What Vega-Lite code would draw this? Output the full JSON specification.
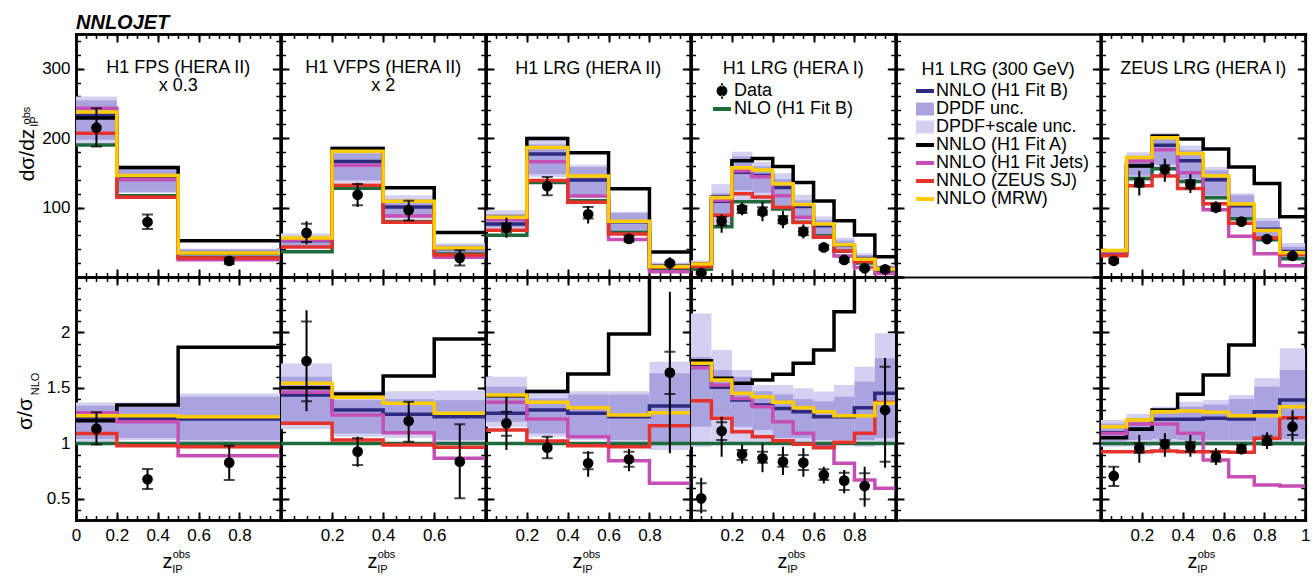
{
"$schema": "https://vega.github.io/schema/vega-lite/v6.json",
"padding": {"left": 14, "top": 13, "right": 4, "bottom": 0},
"title": {"text": "NNLOJET", "anchor": "start", "frame": "group", "fontSize": 20, "fontStyle": "italic", "fontWeight": "bold", "offset": -16, "baseline": "alphabetic"},
"datasets": {"v": [
{"p":1,"r":"t","x":0,"x2":0.2,"N":190,"B":233,"A":229,"J":243,"Z":207,"M":237.5,"ml":197.6,"mh":254.6,"ll":190,"lh":260},
{"p":1,"r":"t","x":0.2,"x2":0.5,"N":117,"B":143.6,"A":157.6,"J":140,"Z":114.7,"M":146.3,"ml":122.9,"mh":155.6,"ll":120.5,"lh":160.3},
{"p":1,"r":"t","x":0.5,"x2":1,"N":28,"B":34.2,"A":52.2,"J":24.9,"Z":27.2,"M":34.7,"ml":28.8,"mh":39.8,"ll":28,"lh":40.6},
{"p":1,"r":"b","x":0,"x2":0.2,"N":1,"B":1.227,"A":1.205,"J":1.277,"Z":1.09,"M":1.25,"ml":1.04,"mh":1.34,"ll":1.0,"lh":1.37},
{"p":1,"r":"b","x":0.2,"x2":0.5,"N":1,"B":1.227,"A":1.347,"J":1.196,"Z":0.98,"M":1.25,"ml":1.05,"mh":1.33,"ll":1.03,"lh":1.37},
{"p":1,"r":"b","x":0.5,"x2":1,"N":1,"B":1.22,"A":1.866,"J":0.89,"Z":0.97,"M":1.241,"ml":1.03,"mh":1.42,"ll":1.0,"lh":1.45},
{"p":2,"r":"t","x":0,"x2":0.2,"N":36.5,"B":52.5,"A":54.9,"J":53.3,"Z":43.1,"M":56.3,"ml":43.1,"mh":58.4,"ll":41.2,"lh":62.8},
{"p":2,"r":"t","x":0.2,"x2":0.4,"N":128,"B":166.5,"A":185,"J":160.8,"Z":132,"M":181.2,"ml":139.5,"mh":178,"ll":135.7,"lh":189},
{"p":2,"r":"t","x":0.4,"x2":0.6,"N":80,"B":101,"A":128.6,"J":87.8,"Z":78.9,"M":109,"ml":88,"mh":112,"ll":84,"lh":117.6},
{"p":2,"r":"t","x":0.6,"x2":0.8,"N":33,"B":41,"A":64,"J":28.6,"Z":31.8,"M":41.9,"ml":34,"mh":45.9,"ll":32.7,"lh":48.7},
{"p":2,"r":"b","x":0,"x2":0.2,"N":1,"B":1.437,"A":1.503,"J":1.461,"Z":1.181,"M":1.542,"ml":1.18,"mh":1.6,"ll":1.13,"lh":1.72},
{"p":2,"r":"b","x":0.2,"x2":0.4,"N":1,"B":1.301,"A":1.446,"J":1.256,"Z":1.031,"M":1.416,"ml":1.09,"mh":1.39,"ll":1.06,"lh":1.476},
{"p":2,"r":"b","x":0.4,"x2":0.6,"N":1,"B":1.263,"A":1.608,"J":1.097,"Z":0.986,"M":1.362,"ml":1.1,"mh":1.4,"ll":1.05,"lh":1.47},
{"p":2,"r":"b","x":0.6,"x2":0.8,"N":1,"B":1.241,"A":1.941,"J":0.866,"Z":0.965,"M":1.271,"ml":1.03,"mh":1.39,"ll":0.99,"lh":1.476},
{"p":3,"r":"t","x":0,"x2":0.2,"N":60,"B":76.3,"A":85.8,"J":82.3,"Z":67.3,"M":86.2,"ml":71.8,"mh":90.7,"ll":69.1,"lh":96.1},
{"p":3,"r":"t","x":0.2,"x2":0.4,"N":136,"B":177,"A":199.5,"J":166,"Z":139,"M":186.5,"ml":148,"mh":191,"ll":144,"lh":202.6},
{"p":3,"r":"t","x":0.4,"x2":0.6,"N":110,"B":139.8,"A":178.9,"J":116.7,"Z":107.8,"M":145.4,"ml":116.6,"mh":158.4,"ll":113.3,"lh":161.7},
{"p":3,"r":"t","x":0.6,"x2":0.8,"N":64,"B":79.4,"A":127.1,"J":54.1,"Z":62.1,"M":80.4,"ml":65.9,"mh":92.2,"ll":63.4,"lh":94},
{"p":3,"r":"t","x":0.8,"x2":1,"N":12,"B":16,"A":36,"J":7.7,"Z":13.9,"M":15.3,"ml":12,"mh":19.6,"ll":11.3,"lh":20.8},
{"p":3,"r":"b","x":0,"x2":0.2,"N":1,"B":1.271,"A":1.43,"J":1.371,"Z":1.121,"M":1.437,"ml":1.196,"mh":1.511,"ll":1.151,"lh":1.602},
{"p":3,"r":"b","x":0.2,"x2":0.4,"N":1,"B":1.301,"A":1.467,"J":1.22,"Z":1.022,"M":1.371,"ml":1.09,"mh":1.406,"ll":1.06,"lh":1.49},
{"p":3,"r":"b","x":0.4,"x2":0.6,"N":1,"B":1.271,"A":1.626,"J":1.061,"Z":0.98,"M":1.322,"ml":1.06,"mh":1.44,"ll":1.03,"lh":1.47},
{"p":3,"r":"b","x":0.6,"x2":0.8,"N":1,"B":1.24,"A":1.986,"J":0.845,"Z":0.97,"M":1.256,"ml":1.03,"mh":1.44,"ll":0.99,"lh":1.47},
{"p":3,"r":"b","x":0.8,"x2":1,"N":1,"B":1.337,"A":3.0,"J":0.641,"Z":1.16,"M":1.277,"ml":1.0,"mh":1.632,"ll":0.94,"lh":1.737},
{"p":4,"r":"t","x":0,"x2":0.1,"N":11,"B":18.7,"A":19.2,"J":18.5,"Z":15.2,"M":18.9,"ml":12.7,"mh":19.6,"ll":10.7,"lh":23.9},
{"p":4,"r":"t","x":0.1,"x2":0.2,"N":72.5,"B":109.2,"A":115,"J":110.7,"Z":89,"M":114,"ml":90.6,"mh":120.5,"ll":72.5,"lh":133.5},
{"p":4,"r":"t","x":0.2,"x2":0.3,"N":108.5,"B":150.9,"A":167.3,"J":152.6,"Z":120,"M":157.5,"ml":124.8,"mh":173.6,"ll":108.5,"lh":180.3},
{"p":4,"r":"t","x":0.3,"x2":0.4,"N":108.5,"B":146.1,"A":170.6,"J":144.4,"Z":115.1,"M":154.2,"ml":121.5,"mh":159.5,"ll":108.5,"lh":165.7},
{"p":4,"r":"t","x":0.4,"x2":0.5,"N":98,"B":129,"A":159,"J":117.2,"Z":100.5,"M":134.4,"ml":102.9,"mh":141.1,"ll":98,"lh":149.6},
{"p":4,"r":"t","x":0.5,"x2":0.6,"N":79,"B":101.6,"A":136,"J":86.2,"Z":78.4,"M":104.4,"ml":83,"mh":110.6,"ll":77.4,"lh":118.3},
{"p":4,"r":"t","x":0.6,"x2":0.7,"N":59.5,"B":73.8,"A":109.6,"J":57.7,"Z":57.2,"M":76.5,"ml":61.3,"mh":82.1,"ll":58.3,"lh":87.3},
{"p":4,"r":"t","x":0.7,"x2":0.8,"N":37,"B":45.9,"A":80.9,"J":30.4,"Z":37.4,"M":46.3,"ml":38.1,"mh":52.5,"ll":37,"lh":56.5},
{"p":4,"r":"t","x":0.8,"x2":0.9,"N":20.3,"B":26.8,"A":60.5,"J":13.6,"Z":22.1,"M":25.4,"ml":20.9,"mh":31.6,"ll":19.7,"lh":34.3},
{"p":4,"r":"t","x":0.9,"x2":1,"N":8.5,"B":12.3,"A":29,"J":5.1,"Z":11.6,"M":11.6,"ml":8.9,"mh":15,"ll":8.5,"lh":16.9},
{"p":4,"r":"b","x":0,"x2":0.1,"N":1,"B":1.70,"A":1.746,"J":1.683,"Z":1.385,"M":1.722,"ml":1.15,"mh":1.78,"ll":0.97,"lh":2.17},
{"p":4,"r":"b","x":0.1,"x2":0.2,"N":1,"B":1.506,"A":1.587,"J":1.527,"Z":1.227,"M":1.572,"ml":1.25,"mh":1.662,"ll":1.0,"lh":1.842},
{"p":4,"r":"b","x":0.2,"x2":0.3,"N":1,"B":1.391,"A":1.542,"J":1.406,"Z":1.106,"M":1.452,"ml":1.15,"mh":1.6,"ll":1.0,"lh":1.662},
{"p":4,"r":"b","x":0.3,"x2":0.4,"N":1,"B":1.347,"A":1.572,"J":1.331,"Z":1.061,"M":1.421,"ml":1.12,"mh":1.47,"ll":1.0,"lh":1.527},
{"p":4,"r":"b","x":0.4,"x2":0.5,"N":1,"B":1.316,"A":1.623,"J":1.196,"Z":1.025,"M":1.371,"ml":1.05,"mh":1.44,"ll":1.0,"lh":1.527},
{"p":4,"r":"b","x":0.5,"x2":0.6,"N":1,"B":1.286,"A":1.722,"J":1.091,"Z":0.992,"M":1.322,"ml":1.05,"mh":1.4,"ll":0.98,"lh":1.497},
{"p":4,"r":"b","x":0.6,"x2":0.7,"N":1,"B":1.241,"A":1.842,"J":0.97,"Z":0.962,"M":1.286,"ml":1.03,"mh":1.38,"ll":0.98,"lh":1.467},
{"p":4,"r":"b","x":0.7,"x2":0.8,"N":1,"B":1.24,"A":2.187,"J":0.821,"Z":1.01,"M":1.25,"ml":1.03,"mh":1.42,"ll":1.0,"lh":1.527},
{"p":4,"r":"b","x":0.8,"x2":0.9,"N":1,"B":1.322,"A":2.98,"J":0.67,"Z":1.091,"M":1.25,"ml":1.03,"mh":1.557,"ll":0.97,"lh":1.692},
{"p":4,"r":"b","x":0.9,"x2":1,"N":1,"B":1.452,"A":3.4,"J":0.596,"Z":1.37,"M":1.362,"ml":1.05,"mh":1.767,"ll":1.0,"lh":1.992},
{"p":6,"r":"t","x":0,"x2":0.125,"N":33,"B":36.2,"A":34.7,"J":36,"Z":30.6,"M":38,"ml":33.7,"mh":38.9,"ll":32,"lh":40},
{"p":6,"r":"t","x":0.125,"x2":0.25,"N":142,"B":160.5,"A":160,"J":166.9,"Z":131.5,"M":172,"ml":146.3,"mh":174.7,"ll":137.7,"lh":179.6},
{"p":6,"r":"t","x":0.25,"x2":0.375,"N":156,"B":189.9,"A":203,"J":183.3,"Z":145.4,"M":200.6,"ml":162.2,"mh":202.8,"ll":152.9,"lh":207.6},
{"p":6,"r":"t","x":0.375,"x2":0.5,"N":137.6,"B":167.5,"A":198.6,"J":150.1,"Z":127.4,"M":177.8,"ml":141.7,"mh":183,"ll":134.8,"lh":189.3},
{"p":6,"r":"t","x":0.5,"x2":0.625,"N":114,"B":139.9,"A":184.3,"J":97,"Z":105.6,"M":145.9,"ml":117.4,"mh":153.9,"ll":111.7,"lh":158.6},
{"p":6,"r":"t","x":0.625,"x2":0.75,"N":84,"B":102.5,"A":158.5,"J":58.8,"Z":77.3,"M":105,"ml":86.5,"mh":117.6,"ll":82.3,"lh":120.7},
{"p":6,"r":"t","x":0.75,"x2":0.875,"N":53.5,"B":68.8,"A":134.8,"J":33.5,"Z":56,"M":66.9,"ml":55.1,"mh":80.8,"ll":52.4,"lh":84.9},
{"p":6,"r":"t","x":0.875,"x2":1,"N":26.3,"B":36.6,"A":86.8,"J":16.2,"Z":32.4,"M":35,"ml":27.4,"mh":43.7,"ll":25.8,"lh":48.8},
{"p":6,"r":"b","x":0,"x2":0.125,"N":1,"B":1.097,"A":1.052,"J":1.09,"Z":0.926,"M":1.151,"ml":1.02,"mh":1.18,"ll":0.97,"lh":1.211},
{"p":6,"r":"b","x":0.125,"x2":0.25,"N":1,"B":1.13,"A":1.127,"J":1.175,"Z":0.926,"M":1.211,"ml":1.03,"mh":1.23,"ll":0.97,"lh":1.265},
{"p":6,"r":"b","x":0.25,"x2":0.375,"N":1,"B":1.217,"A":1.301,"J":1.175,"Z":0.932,"M":1.286,"ml":1.04,"mh":1.3,"ll":0.98,"lh":1.331},
{"p":6,"r":"b","x":0.375,"x2":0.5,"N":1,"B":1.217,"A":1.443,"J":1.091,"Z":0.926,"M":1.292,"ml":1.03,"mh":1.33,"ll":0.98,"lh":1.376},
{"p":6,"r":"b","x":0.5,"x2":0.625,"N":1,"B":1.227,"A":1.617,"J":0.851,"Z":0.926,"M":1.28,"ml":1.03,"mh":1.35,"ll":0.98,"lh":1.391},
{"p":6,"r":"b","x":0.625,"x2":0.75,"N":1,"B":1.22,"A":1.887,"J":0.70,"Z":0.92,"M":1.25,"ml":1.03,"mh":1.4,"ll":0.98,"lh":1.437},
{"p":6,"r":"b","x":0.75,"x2":0.875,"N":1,"B":1.286,"A":2.52,"J":0.626,"Z":1.046,"M":1.25,"ml":1.03,"mh":1.511,"ll":0.98,"lh":1.587},
{"p":6,"r":"b","x":0.875,"x2":1,"N":1,"B":1.391,"A":3.3,"J":0.616,"Z":1.232,"M":1.331,"ml":1.04,"mh":1.662,"ll":0.98,"lh":1.857},
{"p":1,"r":"t","xd":0.1,"yd":215,"il":188,"ih":243,"ol":188,"oh":243},
{"p":1,"r":"t","xd":0.35,"yd":79.2,"il":69,"ih":90,"ol":69,"oh":90},
{"p":1,"r":"t","xd":0.75,"yd":23.2,"il":18.8,"ih":27.4,"ol":18.8,"oh":27.4},
{"p":1,"r":"b","xd":0.1,"yd":1.133,"il":0.99,"ih":1.28,"ol":0.99,"oh":1.28},
{"p":1,"r":"b","xd":0.35,"yd":0.677,"il":0.59,"ih":0.77,"ol":0.59,"oh":0.77},
{"p":1,"r":"b","xd":0.75,"yd":0.827,"il":0.67,"ih":0.98,"ol":0.67,"oh":0.98},
{"p":2,"r":"t","xd":0.1,"yd":63.6,"il":50.4,"ih":76.7,"ol":47.1,"oh":80.3},
{"p":2,"r":"t","xd":0.3,"yd":118.5,"il":103.2,"ih":133.9,"ol":101,"oh":135.7},
{"p":2,"r":"t","xd":0.5,"yd":96.2,"il":81.3,"ih":110,"ol":81.3,"oh":110},
{"p":2,"r":"t","xd":0.7,"yd":27.6,"il":16.7,"ih":38.7,"ol":16.7,"oh":38.7},
{"p":2,"r":"b","xd":0.1,"yd":1.743,"il":1.38,"ih":2.1,"ol":1.29,"oh":2.2},
{"p":2,"r":"b","xd":0.3,"yd":0.926,"il":0.806,"ih":1.046,"ol":0.79,"oh":1.06},
{"p":2,"r":"b","xd":0.5,"yd":1.202,"il":1.016,"ih":1.376,"ol":1.016,"oh":1.376},
{"p":2,"r":"b","xd":0.7,"yd":0.836,"il":0.506,"ih":1.172,"ol":0.506,"oh":1.172},
{"p":3,"r":"t","xd":0.1,"yd":70.9,"il":64.2,"ih":77.2,"ol":56.4,"oh":85.2},
{"p":3,"r":"t","xd":0.3,"yd":130.8,"il":117.8,"ih":144.2,"ol":117.8,"oh":144.2},
{"p":3,"r":"t","xd":0.5,"yd":90.3,"il":84.4,"ih":100.9,"ol":77,"oh":102.3},
{"p":3,"r":"t","xd":0.7,"yd":54.8,"il":50.6,"ih":59.3,"ol":48,"oh":60.8},
{"p":3,"r":"t","xd":0.9,"yd":19.7,"il":17.4,"ih":21.9,"ol":10.9,"oh":28.4},
{"p":3,"r":"b","xd":0.1,"yd":1.181,"il":1.07,"ih":1.286,"ol":0.94,"oh":1.42},
{"p":3,"r":"b","xd":0.3,"yd":0.962,"il":0.866,"ih":1.06,"ol":0.866,"oh":1.06},
{"p":3,"r":"b","xd":0.5,"yd":0.821,"il":0.767,"ih":0.917,"ol":0.70,"oh":0.93},
{"p":3,"r":"b","xd":0.7,"yd":0.857,"il":0.79,"ih":0.926,"ol":0.75,"oh":0.95},
{"p":3,"r":"b","xd":0.9,"yd":1.638,"il":1.446,"ih":1.827,"ol":0.911,"oh":2.368},
{"p":4,"r":"t","xd":0.05,"yd":5.6,"il":4.3,"ih":7.1,"ol":4.1,"oh":7.6},
{"p":4,"r":"t","xd":0.15,"yd":80.6,"il":74.7,"ih":86.3,"ol":63.8,"oh":90},
{"p":4,"r":"t","xd":0.25,"yd":97.9,"il":92.3,"ih":102.1,"ol":89,"oh":107.4},
{"p":4,"r":"t","xd":0.35,"yd":94,"il":89.7,"ih":100.5,"ol":80.3,"oh":108.5},
{"p":4,"r":"t","xd":0.45,"yd":81.9,"il":77.4,"ih":87.8,"ol":70.2,"oh":95.2},
{"p":4,"r":"t","xd":0.55,"yd":65.3,"il":60.1,"ih":70.8,"ol":55.3,"oh":75.5},
{"p":4,"r":"t","xd":0.65,"yd":42.6,"il":39.9,"ih":45.6,"ol":38.1,"oh":47},
{"p":4,"r":"t","xd":0.75,"yd":24.6,"il":21.5,"ih":27.2,"ol":20.4,"oh":28.1},
{"p":4,"r":"t","xd":0.85,"yd":12.5,"il":10.1,"ih":14.8,"ol":8.7,"oh":16},
{"p":4,"r":"t","xd":0.95,"yd":11.1,"il":7.1,"ih":14.4,"ol":6.6,"oh":15},
{"p":4,"r":"b","xd":0.05,"yd":0.505,"il":0.394,"ih":0.641,"ol":0.37,"oh":0.69},
{"p":4,"r":"b","xd":0.15,"yd":1.112,"il":1.031,"ih":1.19,"ol":0.88,"oh":1.241},
{"p":4,"r":"b","xd":0.25,"yd":0.902,"il":0.851,"ih":0.941,"ol":0.82,"oh":0.99},
{"p":4,"r":"b","xd":0.35,"yd":0.866,"il":0.827,"ih":0.926,"ol":0.74,"oh":1.0},
{"p":4,"r":"b","xd":0.45,"yd":0.836,"il":0.79,"ih":0.896,"ol":0.716,"oh":0.971},
{"p":4,"r":"b","xd":0.55,"yd":0.827,"il":0.761,"ih":0.896,"ol":0.70,"oh":0.956},
{"p":4,"r":"b","xd":0.65,"yd":0.716,"il":0.67,"ih":0.767,"ol":0.64,"oh":0.79},
{"p":4,"r":"b","xd":0.75,"yd":0.665,"il":0.58,"ih":0.736,"ol":0.55,"oh":0.76},
{"p":4,"r":"b","xd":0.85,"yd":0.616,"il":0.497,"ih":0.731,"ol":0.43,"oh":0.79},
{"p":4,"r":"b","xd":0.95,"yd":1.301,"il":0.836,"ih":1.692,"ol":0.78,"oh":1.77},
{"p":6,"r":"t","xd":0.0625,"yd":23.3,"il":20.3,"ih":26.1,"ol":20.3,"oh":26.1},
{"p":6,"r":"t","xd":0.1875,"yd":135.8,"il":130.2,"ih":142,"ol":117.4,"oh":152.8},
{"p":6,"r":"t","xd":0.3125,"yd":155.2,"il":149.1,"ih":160.8,"ol":137.3,"oh":170.2},
{"p":6,"r":"t","xd":0.4375,"yd":133.5,"il":127.4,"ih":139.8,"ol":121.1,"oh":148.1},
{"p":6,"r":"t","xd":0.5625,"yd":100.3,"il":95.3,"ih":105.6,"ol":91.9,"oh":109},
{"p":6,"r":"t","xd":0.6875,"yd":79.8,"il":77.3,"ih":82.8,"ol":75.6,"oh":84},
{"p":6,"r":"t","xd":0.8125,"yd":54.7,"il":52.8,"ih":57.2,"ol":50.8,"oh":58.9},
{"p":6,"r":"t","xd":0.9375,"yd":30.3,"il":28.3,"ih":32.3,"ol":26.8,"oh":34.2},
{"p":6,"r":"b","xd":0.0625,"yd":0.707,"il":0.616,"ih":0.79,"ol":0.616,"oh":0.79},
{"p":6,"r":"b","xd":0.1875,"yd":0.956,"il":0.917,"ih":1.0,"ol":0.827,"oh":1.076},
{"p":6,"r":"b","xd":0.3125,"yd":0.995,"il":0.956,"ih":1.031,"ol":0.88,"oh":1.091},
{"p":6,"r":"b","xd":0.4375,"yd":0.97,"il":0.926,"ih":1.016,"ol":0.88,"oh":1.076},
{"p":6,"r":"b","xd":0.5625,"yd":0.88,"il":0.836,"ih":0.926,"ol":0.806,"oh":0.956},
{"p":6,"r":"b","xd":0.6875,"yd":0.95,"il":0.92,"ih":0.986,"ol":0.9,"oh":1.0},
{"p":6,"r":"b","xd":0.8125,"yd":1.022,"il":0.986,"ih":1.07,"ol":0.95,"oh":1.1},
{"p":6,"r":"b","xd":0.9375,"yd":1.151,"il":1.076,"ih":1.227,"ol":1.02,"oh":1.3}
]},
"columns": 6,
"spacing": 0,
"bounds": "flush",
"resolve": {"scale": {"x": "independent", "y": "independent", "color": "independent", "stroke": "independent", "fill": "independent", "shape": "independent"}, "axis": {"x": "independent", "y": "independent"}},
"concat": [
{"width":204.3,"height":243,"title":{"text":["H1 FPS (HERA II)","x 0.3"],"offset":-62},"data":{"name":"v"},"transform":[{"filter":"datum.p==1&&datum.r=='t'"}],"resolve":{"axis":{"x":"independent","y":"independent"}},
"layer":[
{"mark":{"type":"rect","color":"#d3d0f2","clip":true},"encoding":{"x":{"field":"x","type":"quantitative","scale":{"domain":[0,1],"nice":false,"zero":false},"axis":{"orient":"bottom","tickCount":5,"labels":false,"title":null}},"x2":{"field":"x2"},"y":{"field":"ll","type":"quantitative","scale":{"domain":[0,350],"nice":false,"zero":false},"axis":{"orient":"left","values":[100,200,300],"format":"d","title":"dσ/dz","titleX":-43,"titleY":120.5,"titleAngle":-90,"titleAlign":"center","titleBaseline":"alphabetic","titleFontSize":21}},"y2":{"field":"lh"}}},
{"mark":{"type":"rect","color":"#a9a4df","clip":true},"encoding":{"x":{"field":"x","type":"quantitative","scale":{"domain":[0,1],"nice":false,"zero":false},"axis":{"orient":"bottom","tickCount":20,"tickSize":-4.5,"tickWidth":1.5,"labels":false,"title":null}},"x2":{"field":"x2"},"y":{"field":"ml","type":"quantitative","scale":{"domain":[0,350],"nice":false,"zero":false},"axis":{"orient":"left","tickCount":17,"tickSize":-4.5,"tickWidth":1.5,"labels":false,"title":null}},"y2":{"field":"mh"}}},
{"transform":[{"fold":["x","x2"],"as":["e","xe"]}],"mark":{"type":"line","strokeWidth":3.5,"clip":true},"encoding":{"x":{"field":"xe","type":"quantitative","scale":{"domain":[0,1],"nice":false,"zero":false},"axis":{"orient":"top","tickCount":5,"labels":false,"title":null}},"y":{"field":"N","type":"quantitative","scale":{"domain":[0,350],"nice":false,"zero":false},"axis":{"orient":"right","tickCount":3,"labels":false,"title":null}},"stroke":{"datum":"N","scale":{"domain":["D","N"],"range":["#000000","#1d6b3b"]},"legend":null},"order":[{"field":"x","type":"quantitative"},{"field":"e","type":"nominal"}]}},
{"transform":[{"fold":["B","A","J","Z","M"],"as":["s","v"]},{"fold":["x","x2"],"as":["e","xe"]}],"mark":{"type":"line","strokeWidth":3.5,"clip":true},"encoding":{"x":{"field":"xe","type":"quantitative","scale":{"domain":[0,1],"nice":false,"zero":false},"axis":{"orient":"top","tickCount":20,"tickSize":-4.5,"tickWidth":1.5,"labels":false,"title":null}},"y":{"field":"v","type":"quantitative","scale":{"domain":[0,350],"nice":false,"zero":false},"axis":{"orient":"right","tickCount":17,"tickSize":-4.5,"tickWidth":1.5,"labels":false,"title":null}},"color":{"field":"s","type":"nominal","scale":{"domain":["B","U","S","A","J","Z","M"],"range":["#2d2a7f","#a9a4df","#d3d0f2","#000000","#c54fb4","#e5322b","#ffcc00"]},"legend":null},"order":[{"field":"x","type":"quantitative"},{"field":"e","type":"nominal"}]}},
{"mark":{"type":"rule","strokeWidth":2,"color":"#000000","clip":true},"encoding":{"x":{"field":"xd","type":"quantitative","scale":{"domain":[0,1],"nice":false,"zero":false},"axis":null},"y":{"field":"ol","type":"quantitative","scale":{"domain":[0,350],"nice":false,"zero":false},"axis":{"orient":"left","ticks":false,"labels":false,"domain":false,"title":"obs","titleX":-47,"titleY":81,"titleAngle":-90,"titleAlign":"center","titleBaseline":"alphabetic","titleFontSize":11}},"y2":{"field":"oh"}}},
{"transform":[{"fold":["il","ih"],"as":["ck","cv"]}],"mark":{"type":"tick","orient":"horizontal","size":11,"thickness":2,"color":"#000000","clip":true},"encoding":{"x":{"field":"xd","type":"quantitative","scale":{"domain":[0,1],"nice":false,"zero":false},"axis":null},"y":{"field":"cv","type":"quantitative","scale":{"domain":[0,350],"nice":false,"zero":false},"axis":{"orient":"left","ticks":false,"labels":false,"domain":false,"title":"IP","titleX":-39,"titleY":87,"titleAngle":-90,"titleAlign":"center","titleBaseline":"alphabetic","titleFontSize":11}}}},
{"mark":{"type":"point","filled":true,"color":"#000000","size":115,"opacity":1,"clip":true},"encoding":{"x":{"field":"xd","type":"quantitative","scale":{"domain":[0,1],"nice":false,"zero":false},"axis":null},"y":{"field":"yd","type":"quantitative","scale":{"domain":[0,350],"nice":false,"zero":false},"axis":null}}}
]},
{"width":204.3,"height":243,"title":{"text":["H1 VFPS (HERA II)","x 2"],"offset":-62},"data":{"name":"v"},"transform":[{"filter":"datum.p==2&&datum.r=='t'"}],"resolve":{"axis":{"x":"independent","y":"independent"}},
"layer":[
{"mark":{"type":"rect","color":"#d3d0f2","clip":true},"encoding":{"x":{"field":"x","type":"quantitative","scale":{"domain":[0,0.8],"nice":false,"zero":false},"axis":{"orient":"bottom","tickCount":5,"labels":false,"title":null}},"x2":{"field":"x2"},"y":{"field":"ll","type":"quantitative","scale":{"domain":[0,350],"nice":false,"zero":false},"axis":{"orient":"left","tickCount":3,"labels":false,"title":null}},"y2":{"field":"lh"}}},
{"mark":{"type":"rect","color":"#a9a4df","clip":true},"encoding":{"x":{"field":"x","type":"quantitative","scale":{"domain":[0,0.8],"nice":false,"zero":false},"axis":{"orient":"bottom","tickCount":16,"tickSize":-4.5,"tickWidth":1.5,"labels":false,"title":null}},"x2":{"field":"x2"},"y":{"field":"ml","type":"quantitative","scale":{"domain":[0,350],"nice":false,"zero":false},"axis":{"orient":"left","tickCount":17,"tickSize":-4.5,"tickWidth":1.5,"labels":false,"title":null}},"y2":{"field":"mh"}}},
{"transform":[{"fold":["x","x2"],"as":["e","xe"]}],"mark":{"type":"line","strokeWidth":3.5,"clip":true},"encoding":{"x":{"field":"xe","type":"quantitative","scale":{"domain":[0,0.8],"nice":false,"zero":false},"axis":{"orient":"top","tickCount":5,"labels":false,"title":null}},"y":{"field":"N","type":"quantitative","scale":{"domain":[0,350],"nice":false,"zero":false},"axis":{"orient":"right","tickCount":3,"labels":false,"title":null}},"stroke":{"datum":"N","scale":{"domain":["D","N"],"range":["#000000","#1d6b3b"]},"legend":null},"order":[{"field":"x","type":"quantitative"},{"field":"e","type":"nominal"}]}},
{"transform":[{"fold":["B","A","J","Z","M"],"as":["s","v"]},{"fold":["x","x2"],"as":["e","xe"]}],"mark":{"type":"line","strokeWidth":3.5,"clip":true},"encoding":{"x":{"field":"xe","type":"quantitative","scale":{"domain":[0,0.8],"nice":false,"zero":false},"axis":{"orient":"top","tickCount":16,"tickSize":-4.5,"tickWidth":1.5,"labels":false,"title":null}},"y":{"field":"v","type":"quantitative","scale":{"domain":[0,350],"nice":false,"zero":false},"axis":{"orient":"right","tickCount":17,"tickSize":-4.5,"tickWidth":1.5,"labels":false,"title":null}},"color":{"field":"s","type":"nominal","scale":{"domain":["B","U","S","A","J","Z","M"],"range":["#2d2a7f","#a9a4df","#d3d0f2","#000000","#c54fb4","#e5322b","#ffcc00"]},"legend":null},"order":[{"field":"x","type":"quantitative"},{"field":"e","type":"nominal"}]}},
{"mark":{"type":"rule","strokeWidth":2,"color":"#000000","clip":true},"encoding":{"x":{"field":"xd","type":"quantitative","scale":{"domain":[0,0.8],"nice":false,"zero":false},"axis":null},"y":{"field":"ol","type":"quantitative","scale":{"domain":[0,350],"nice":false,"zero":false},"axis":null},"y2":{"field":"oh"}}},
{"transform":[{"fold":["il","ih"],"as":["ck","cv"]}],"mark":{"type":"tick","orient":"horizontal","size":11,"thickness":2,"color":"#000000","clip":true},"encoding":{"x":{"field":"xd","type":"quantitative","scale":{"domain":[0,0.8],"nice":false,"zero":false},"axis":null},"y":{"field":"cv","type":"quantitative","scale":{"domain":[0,350],"nice":false,"zero":false},"axis":null}}},
{"mark":{"type":"point","filled":true,"color":"#000000","size":115,"opacity":1,"clip":true},"encoding":{"x":{"field":"xd","type":"quantitative","scale":{"domain":[0,0.8],"nice":false,"zero":false},"axis":null},"y":{"field":"yd","type":"quantitative","scale":{"domain":[0,350],"nice":false,"zero":false},"axis":null}}}
]},
{"width":204.3,"height":243,"title":{"text":"H1 LRG (HERA II)"},"data":{"name":"v"},"transform":[{"filter":"datum.p==3&&datum.r=='t'"}],"resolve":{"axis":{"x":"independent","y":"independent"}},
"layer":[
{"mark":{"type":"rect","color":"#d3d0f2","clip":true},"encoding":{"x":{"field":"x","type":"quantitative","scale":{"domain":[0,1],"nice":false,"zero":false},"axis":{"orient":"bottom","tickCount":5,"labels":false,"title":null}},"x2":{"field":"x2"},"y":{"field":"ll","type":"quantitative","scale":{"domain":[0,350],"nice":false,"zero":false},"axis":{"orient":"left","tickCount":3,"labels":false,"title":null}},"y2":{"field":"lh"}}},
{"mark":{"type":"rect","color":"#a9a4df","clip":true},"encoding":{"x":{"field":"x","type":"quantitative","scale":{"domain":[0,1],"nice":false,"zero":false},"axis":{"orient":"bottom","tickCount":20,"tickSize":-4.5,"tickWidth":1.5,"labels":false,"title":null}},"x2":{"field":"x2"},"y":{"field":"ml","type":"quantitative","scale":{"domain":[0,350],"nice":false,"zero":false},"axis":{"orient":"left","tickCount":17,"tickSize":-4.5,"tickWidth":1.5,"labels":false,"title":null}},"y2":{"field":"mh"}}},
{"transform":[{"fold":["x","x2"],"as":["e","xe"]}],"mark":{"type":"line","strokeWidth":3.5,"clip":true},"encoding":{"x":{"field":"xe","type":"quantitative","scale":{"domain":[0,1],"nice":false,"zero":false},"axis":{"orient":"top","tickCount":5,"labels":false,"title":null}},"y":{"field":"N","type":"quantitative","scale":{"domain":[0,350],"nice":false,"zero":false},"axis":{"orient":"right","tickCount":3,"labels":false,"title":null}},"stroke":{"datum":"N","scale":{"domain":["D","N"],"range":["#000000","#1d6b3b"]},"legend":null},"order":[{"field":"x","type":"quantitative"},{"field":"e","type":"nominal"}]}},
{"transform":[{"fold":["B","A","J","Z","M"],"as":["s","v"]},{"fold":["x","x2"],"as":["e","xe"]}],"mark":{"type":"line","strokeWidth":3.5,"clip":true},"encoding":{"x":{"field":"xe","type":"quantitative","scale":{"domain":[0,1],"nice":false,"zero":false},"axis":{"orient":"top","tickCount":20,"tickSize":-4.5,"tickWidth":1.5,"labels":false,"title":null}},"y":{"field":"v","type":"quantitative","scale":{"domain":[0,350],"nice":false,"zero":false},"axis":{"orient":"right","tickCount":17,"tickSize":-4.5,"tickWidth":1.5,"labels":false,"title":null}},"color":{"field":"s","type":"nominal","scale":{"domain":["B","U","S","A","J","Z","M"],"range":["#2d2a7f","#a9a4df","#d3d0f2","#000000","#c54fb4","#e5322b","#ffcc00"]},"legend":null},"order":[{"field":"x","type":"quantitative"},{"field":"e","type":"nominal"}]}},
{"mark":{"type":"rule","strokeWidth":2,"color":"#000000","clip":true},"encoding":{"x":{"field":"xd","type":"quantitative","scale":{"domain":[0,1],"nice":false,"zero":false},"axis":null},"y":{"field":"ol","type":"quantitative","scale":{"domain":[0,350],"nice":false,"zero":false},"axis":null},"y2":{"field":"oh"}}},
{"transform":[{"fold":["il","ih"],"as":["ck","cv"]}],"mark":{"type":"tick","orient":"horizontal","size":11,"thickness":2,"color":"#000000","clip":true},"encoding":{"x":{"field":"xd","type":"quantitative","scale":{"domain":[0,1],"nice":false,"zero":false},"axis":null},"y":{"field":"cv","type":"quantitative","scale":{"domain":[0,350],"nice":false,"zero":false},"axis":null}}},
{"mark":{"type":"point","filled":true,"color":"#000000","size":115,"opacity":1,"clip":true},"encoding":{"x":{"field":"xd","type":"quantitative","scale":{"domain":[0,1],"nice":false,"zero":false},"axis":null},"y":{"field":"yd","type":"quantitative","scale":{"domain":[0,350],"nice":false,"zero":false},"axis":null}}}
]},
{"width":204.3,"height":243,"title":{"text":"H1 LRG (HERA I)"},"data":{"name":"v"},"transform":[{"filter":"datum.p==4&&datum.r=='t'"}],"resolve":{"axis":{"x":"independent","y":"independent"}},
"layer":[
{"mark":{"type":"rect","color":"#d3d0f2","clip":true},"encoding":{"x":{"field":"x","type":"quantitative","scale":{"domain":[0,1],"nice":false,"zero":false},"axis":{"orient":"bottom","tickCount":5,"labels":false,"title":null}},"x2":{"field":"x2"},"y":{"field":"ll","type":"quantitative","scale":{"domain":[0,350],"nice":false,"zero":false},"axis":{"orient":"left","tickCount":3,"labels":false,"title":null}},"y2":{"field":"lh"}}},
{"mark":{"type":"rect","color":"#a9a4df","clip":true},"encoding":{"x":{"field":"x","type":"quantitative","scale":{"domain":[0,1],"nice":false,"zero":false},"axis":{"orient":"bottom","tickCount":20,"tickSize":-4.5,"tickWidth":1.5,"labels":false,"title":null}},"x2":{"field":"x2"},"y":{"field":"ml","type":"quantitative","scale":{"domain":[0,350],"nice":false,"zero":false},"axis":{"orient":"left","tickCount":17,"tickSize":-4.5,"tickWidth":1.5,"labels":false,"title":null}},"y2":{"field":"mh"}}},
{"transform":[{"fold":["x","x2"],"as":["e","xe"]}],"mark":{"type":"line","strokeWidth":3.5,"clip":true},"encoding":{"x":{"field":"xe","type":"quantitative","scale":{"domain":[0,1],"nice":false,"zero":false},"axis":{"orient":"top","tickCount":5,"labels":false,"title":null}},"y":{"field":"N","type":"quantitative","scale":{"domain":[0,350],"nice":false,"zero":false},"axis":{"orient":"right","tickCount":3,"labels":false,"title":null}},"stroke":{"datum":"N","scale":{"domain":["D","N"],"range":["#000000","#1d6b3b"]},"legend":null},"order":[{"field":"x","type":"quantitative"},{"field":"e","type":"nominal"}]}},
{"transform":[{"fold":["B","A","J","Z","M"],"as":["s","v"]},{"fold":["x","x2"],"as":["e","xe"]}],"mark":{"type":"line","strokeWidth":3.5,"clip":true},"encoding":{"x":{"field":"xe","type":"quantitative","scale":{"domain":[0,1],"nice":false,"zero":false},"axis":{"orient":"top","tickCount":20,"tickSize":-4.5,"tickWidth":1.5,"labels":false,"title":null}},"y":{"field":"v","type":"quantitative","scale":{"domain":[0,350],"nice":false,"zero":false},"axis":{"orient":"right","tickCount":17,"tickSize":-4.5,"tickWidth":1.5,"labels":false,"title":null}},"color":{"field":"s","type":"nominal","scale":{"domain":["B","U","S","A","J","Z","M"],"range":["#2d2a7f","#a9a4df","#d3d0f2","#000000","#c54fb4","#e5322b","#ffcc00"]},"legend":null},"order":[{"field":"x","type":"quantitative"},{"field":"e","type":"nominal"}]}},
{"mark":{"type":"rule","strokeWidth":2,"color":"#000000","clip":true},"encoding":{"x":{"field":"xd","type":"quantitative","scale":{"domain":[0,1],"nice":false,"zero":false},"axis":null},"y":{"field":"ol","type":"quantitative","scale":{"domain":[0,350],"nice":false,"zero":false},"axis":null},"y2":{"field":"oh"}}},
{"transform":[{"fold":["il","ih"],"as":["ck","cv"]}],"mark":{"type":"tick","orient":"horizontal","size":11,"thickness":2,"color":"#000000","clip":true},"encoding":{"x":{"field":"xd","type":"quantitative","scale":{"domain":[0,1],"nice":false,"zero":false},"axis":null},"y":{"field":"cv","type":"quantitative","scale":{"domain":[0,350],"nice":false,"zero":false},"axis":null}}},
{"mark":{"type":"point","filled":true,"color":"#000000","size":115,"opacity":1,"clip":true},"encoding":{"x":{"field":"xd","type":"quantitative","scale":{"domain":[0,1],"nice":false,"zero":false},"axis":null},"y":{"field":"yd","type":"quantitative","scale":{"domain":[0,350],"nice":false,"zero":false},"axis":null}}},
{"transform":[{"filter":"false"}],"mark":{"type":"point","filled":true,"opacity":1},"encoding":{"fill":{"field":"k","type":"nominal","scale":{"domain":["Data","NLO (H1 Fit B)"],"range":["#000000","#1d6b3b"]},"legend":{"title":null,"legendX":22,"legendY":48,"labelOffset":3}},"shape":{"field":"k","type":"nominal","scale":{"domain":["Data","NLO (H1 Fit B)"],"range":["M-0.6,0A0.6,0.6 0 1,0 0.6,0A0.6,0.6 0 1,0 -0.6,0Z M-0.1,-0.85H0.1V-0.5H-0.1Z M-0.1,0.5H0.1V0.85H-0.1Z","M-1,-0.22H1V0.22H-1Z"]},"legend":{"title":null,"legendX":22,"legendY":48,"labelOffset":3}}}}
]},
{"width":204.3,"height":243,"title":{"text":"H1 LRG (300 GeV)"},"data":{"name":"v"},"transform":[{"filter":"datum.p==5&&datum.r=='t'"}],"resolve":{"axis":{"x":"independent","y":"independent"}},
"layer":[
{"mark":{"type":"rect","color":"#d3d0f2","clip":true},"encoding":{"x":{"field":"x","type":"quantitative","scale":{"domain":[0,1],"nice":false,"zero":false},"axis":{"orient":"bottom","ticks":false,"labels":false,"title":null,"domainWidth":1.5}},"x2":{"field":"x2"},"y":{"field":"ll","type":"quantitative","scale":{"domain":[0,350],"nice":false,"zero":false},"axis":{"orient":"left","tickCount":3,"labels":false,"title":null}},"y2":{"field":"lh"}}},
{"mark":{"type":"rect","color":"#a9a4df","clip":true},"encoding":{"x":{"field":"x","type":"quantitative","scale":{"domain":[0,1],"nice":false,"zero":false},"axis":null},"x2":{"field":"x2"},"y":{"field":"ml","type":"quantitative","scale":{"domain":[0,350],"nice":false,"zero":false},"axis":{"orient":"left","tickCount":17,"tickSize":-4.5,"tickWidth":1.5,"labels":false,"title":null}},"y2":{"field":"mh"}}},
{"mark":{"type":"rule","strokeWidth":2,"color":"#000000","clip":true},"encoding":{"x":{"field":"xd","type":"quantitative","scale":{"domain":[0,1],"nice":false,"zero":false},"axis":{"orient":"top","ticks":false,"labels":false,"title":null}},"y":{"field":"ol","type":"quantitative","scale":{"domain":[0,350],"nice":false,"zero":false},"axis":{"orient":"right","tickCount":3,"labels":false,"title":null}},"y2":{"field":"oh"}}},
{"mark":{"type":"point","filled":true,"color":"#000000","size":115,"opacity":1,"clip":true},"encoding":{"x":{"field":"xd","type":"quantitative","scale":{"domain":[0,1],"nice":false,"zero":false},"axis":null},"y":{"field":"yd","type":"quantitative","scale":{"domain":[0,350],"nice":false,"zero":false},"axis":{"orient":"right","tickCount":17,"tickSize":-4.5,"tickWidth":1.5,"labels":false,"title":null}}}},
{"transform":[{"filter":"false"}],"mark":{"type":"point","filled":true,"opacity":1},"encoding":{"fill":{"field":"k","type":"nominal","scale":{"domain":["NNLO (H1 Fit B)","DPDF unc.","DPDF+scale unc.","NNLO (H1 Fit A)","NNLO (H1 Fit Jets)","NNLO (ZEUS SJ)","NNLO (MRW)"],"range":["#2d2a7f","#a9a4df","#d3d0f2","#000000","#c54fb4","#e5322b","#ffcc00"]},"legend":{"title":null,"legendX":20,"legendY":48,"labelOffset":2}},"shape":{"field":"k","type":"nominal","scale":{"domain":["NNLO (H1 Fit B)","DPDF unc.","DPDF+scale unc.","NNLO (H1 Fit A)","NNLO (H1 Fit Jets)","NNLO (ZEUS SJ)","NNLO (MRW)"],"range":["M-1,-0.22H1V0.22H-1Z","M-1,-0.72H1V0.72H-1Z","M-1,-0.72H1V0.72H-1Z","M-1,-0.22H1V0.22H-1Z","M-1,-0.22H1V0.22H-1Z","M-1,-0.22H1V0.22H-1Z","M-1,-0.22H1V0.22H-1Z"]},"legend":{"title":null,"legendX":20,"legendY":48,"labelOffset":2}}}}
]},
{"width":204.3,"height":243,"title":{"text":"ZEUS LRG (HERA I)"},"data":{"name":"v"},"transform":[{"filter":"datum.p==6&&datum.r=='t'"}],"resolve":{"axis":{"x":"independent","y":"independent"}},
"layer":[
{"mark":{"type":"rect","color":"#d3d0f2","clip":true},"encoding":{"x":{"field":"x","type":"quantitative","scale":{"domain":[0,1],"nice":false,"zero":false},"axis":{"orient":"bottom","tickCount":5,"labels":false,"title":null}},"x2":{"field":"x2"},"y":{"field":"ll","type":"quantitative","scale":{"domain":[0,350],"nice":false,"zero":false},"axis":{"orient":"left","tickCount":3,"labels":false,"title":null}},"y2":{"field":"lh"}}},
{"mark":{"type":"rect","color":"#a9a4df","clip":true},"encoding":{"x":{"field":"x","type":"quantitative","scale":{"domain":[0,1],"nice":false,"zero":false},"axis":{"orient":"bottom","tickCount":20,"tickSize":-4.5,"tickWidth":1.5,"labels":false,"title":null}},"x2":{"field":"x2"},"y":{"field":"ml","type":"quantitative","scale":{"domain":[0,350],"nice":false,"zero":false},"axis":{"orient":"left","tickCount":17,"tickSize":-4.5,"tickWidth":1.5,"labels":false,"title":null}},"y2":{"field":"mh"}}},
{"transform":[{"fold":["x","x2"],"as":["e","xe"]}],"mark":{"type":"line","strokeWidth":3.5,"clip":true},"encoding":{"x":{"field":"xe","type":"quantitative","scale":{"domain":[0,1],"nice":false,"zero":false},"axis":{"orient":"top","tickCount":5,"labels":false,"title":null}},"y":{"field":"N","type":"quantitative","scale":{"domain":[0,350],"nice":false,"zero":false},"axis":{"orient":"right","tickCount":3,"labels":false,"title":null}},"stroke":{"datum":"N","scale":{"domain":["D","N"],"range":["#000000","#1d6b3b"]},"legend":null},"order":[{"field":"x","type":"quantitative"},{"field":"e","type":"nominal"}]}},
{"transform":[{"fold":["B","A","J","Z","M"],"as":["s","v"]},{"fold":["x","x2"],"as":["e","xe"]}],"mark":{"type":"line","strokeWidth":3.5,"clip":true},"encoding":{"x":{"field":"xe","type":"quantitative","scale":{"domain":[0,1],"nice":false,"zero":false},"axis":{"orient":"top","tickCount":20,"tickSize":-4.5,"tickWidth":1.5,"labels":false,"title":null}},"y":{"field":"v","type":"quantitative","scale":{"domain":[0,350],"nice":false,"zero":false},"axis":{"orient":"right","tickCount":17,"tickSize":-4.5,"tickWidth":1.5,"labels":false,"title":null}},"color":{"field":"s","type":"nominal","scale":{"domain":["B","U","S","A","J","Z","M"],"range":["#2d2a7f","#a9a4df","#d3d0f2","#000000","#c54fb4","#e5322b","#ffcc00"]},"legend":null},"order":[{"field":"x","type":"quantitative"},{"field":"e","type":"nominal"}]}},
{"mark":{"type":"rule","strokeWidth":2,"color":"#000000","clip":true},"encoding":{"x":{"field":"xd","type":"quantitative","scale":{"domain":[0,1],"nice":false,"zero":false},"axis":null},"y":{"field":"ol","type":"quantitative","scale":{"domain":[0,350],"nice":false,"zero":false},"axis":null},"y2":{"field":"oh"}}},
{"transform":[{"fold":["il","ih"],"as":["ck","cv"]}],"mark":{"type":"tick","orient":"horizontal","size":11,"thickness":2,"color":"#000000","clip":true},"encoding":{"x":{"field":"xd","type":"quantitative","scale":{"domain":[0,1],"nice":false,"zero":false},"axis":null},"y":{"field":"cv","type":"quantitative","scale":{"domain":[0,350],"nice":false,"zero":false},"axis":null}}},
{"mark":{"type":"point","filled":true,"color":"#000000","size":115,"opacity":1,"clip":true},"encoding":{"x":{"field":"xd","type":"quantitative","scale":{"domain":[0,1],"nice":false,"zero":false},"axis":null},"y":{"field":"yd","type":"quantitative","scale":{"domain":[0,350],"nice":false,"zero":false},"axis":null}}}
]},
{"width":204.3,"height":243,"data":{"name":"v"},"transform":[{"filter":"datum.p==1&&datum.r=='b'"}],"resolve":{"axis":{"x":"independent","y":"independent"}},
"layer":[
{"mark":{"type":"rect","color":"#d3d0f2","clip":true},"encoding":{"x":{"field":"x","type":"quantitative","scale":{"domain":[0,1],"nice":false,"zero":false},"axis":{"orient":"bottom","values":[0,0.2,0.4,0.6,0.8],"format":"~g","title":"z","titleX":91,"titleY":47,"titleAngle":0,"titleAlign":"center","titleBaseline":"alphabetic","titleFontSize":20}},"x2":{"field":"x2"},"y":{"field":"ll","type":"quantitative","scale":{"domain":[0.31,2.5],"nice":false,"zero":false},"axis":{"orient":"left","values":[0.5,1,1.5,2],"format":"~g","title":"σ/σ","titleX":-44.5,"titleY":136.5,"titleAngle":-90,"titleAlign":"center","titleBaseline":"alphabetic","titleFontSize":21}},"y2":{"field":"lh"}}},
{"mark":{"type":"rect","color":"#a9a4df","clip":true},"encoding":{"x":{"field":"x","type":"quantitative","scale":{"domain":[0,1],"nice":false,"zero":false},"axis":{"orient":"bottom","tickCount":20,"tickSize":-4.5,"tickWidth":1.5,"labels":false,"title":null}},"x2":{"field":"x2"},"y":{"field":"ml","type":"quantitative","scale":{"domain":[0.31,2.5],"nice":false,"zero":false},"axis":{"orient":"left","tickCount":20,"tickSize":-4.5,"tickWidth":1.5,"labels":false,"title":null}},"y2":{"field":"mh"}}},
{"transform":[{"fold":["x","x2"],"as":["e","xe"]}],"mark":{"type":"line","strokeWidth":3.5,"clip":true},"encoding":{"x":{"field":"xe","type":"quantitative","scale":{"domain":[0,1],"nice":false,"zero":false},"axis":{"orient":"top","tickCount":5,"labels":false,"title":null}},"y":{"field":"N","type":"quantitative","scale":{"domain":[0.31,2.5],"nice":false,"zero":false},"axis":{"orient":"right","tickCount":4,"labels":false,"title":null}},"stroke":{"datum":"N","scale":{"domain":["D","N"],"range":["#000000","#1d6b3b"]},"legend":null},"order":[{"field":"x","type":"quantitative"},{"field":"e","type":"nominal"}]}},
{"transform":[{"fold":["B","A","J","Z","M"],"as":["s","v"]},{"fold":["x","x2"],"as":["e","xe"]}],"mark":{"type":"line","strokeWidth":3.5,"clip":true},"encoding":{"x":{"field":"xe","type":"quantitative","scale":{"domain":[0,1],"nice":false,"zero":false},"axis":{"orient":"top","tickCount":20,"tickSize":-4.5,"tickWidth":1.5,"labels":false,"title":null}},"y":{"field":"v","type":"quantitative","scale":{"domain":[0.31,2.5],"nice":false,"zero":false},"axis":{"orient":"right","tickCount":20,"tickSize":-4.5,"tickWidth":1.5,"labels":false,"title":null}},"color":{"field":"s","type":"nominal","scale":{"domain":["B","U","S","A","J","Z","M"],"range":["#2d2a7f","#a9a4df","#d3d0f2","#000000","#c54fb4","#e5322b","#ffcc00"]},"legend":null},"order":[{"field":"x","type":"quantitative"},{"field":"e","type":"nominal"}]}},
{"mark":{"type":"rule","strokeWidth":2,"color":"#000000","clip":true},"encoding":{"x":{"field":"xd","type":"quantitative","scale":{"domain":[0,1],"nice":false,"zero":false},"axis":{"orient":"bottom","ticks":false,"labels":false,"domain":false,"title":"obs","titleX":105,"titleY":37,"titleAngle":0,"titleAlign":"center","titleBaseline":"alphabetic","titleFontSize":11}},"y":{"field":"ol","type":"quantitative","scale":{"domain":[0.31,2.5],"nice":false,"zero":false},"axis":{"orient":"left","ticks":false,"labels":false,"domain":false,"title":"NLO","titleX":-38,"titleY":106.5,"titleAngle":-90,"titleAlign":"center","titleBaseline":"alphabetic","titleFontSize":11}},"y2":{"field":"oh"}}},
{"transform":[{"fold":["il","ih"],"as":["ck","cv"]}],"mark":{"type":"tick","orient":"horizontal","size":11,"thickness":2,"color":"#000000","clip":true},"encoding":{"x":{"field":"xd","type":"quantitative","scale":{"domain":[0,1],"nice":false,"zero":false},"axis":{"orient":"bottom","ticks":false,"labels":false,"domain":false,"title":"IP","titleX":101,"titleY":52,"titleAngle":0,"titleAlign":"center","titleBaseline":"alphabetic","titleFontSize":11}},"y":{"field":"cv","type":"quantitative","scale":{"domain":[0.31,2.5],"nice":false,"zero":false},"axis":null}}},
{"mark":{"type":"point","filled":true,"color":"#000000","size":115,"opacity":1,"clip":true},"encoding":{"x":{"field":"xd","type":"quantitative","scale":{"domain":[0,1],"nice":false,"zero":false},"axis":null},"y":{"field":"yd","type":"quantitative","scale":{"domain":[0.31,2.5],"nice":false,"zero":false},"axis":null}}}
]},
{"width":204.3,"height":243,"data":{"name":"v"},"transform":[{"filter":"datum.p==2&&datum.r=='b'"}],"resolve":{"axis":{"x":"independent","y":"independent"}},
"layer":[
{"mark":{"type":"rect","color":"#d3d0f2","clip":true},"encoding":{"x":{"field":"x","type":"quantitative","scale":{"domain":[0,0.8],"nice":false,"zero":false},"axis":{"orient":"bottom","values":[0.2,0.4,0.6],"format":"~g","title":"z","titleX":91,"titleY":47,"titleAngle":0,"titleAlign":"center","titleBaseline":"alphabetic","titleFontSize":20}},"x2":{"field":"x2"},"y":{"field":"ll","type":"quantitative","scale":{"domain":[0.31,2.5],"nice":false,"zero":false},"axis":{"orient":"left","tickCount":4,"labels":false,"title":null}},"y2":{"field":"lh"}}},
{"mark":{"type":"rect","color":"#a9a4df","clip":true},"encoding":{"x":{"field":"x","type":"quantitative","scale":{"domain":[0,0.8],"nice":false,"zero":false},"axis":{"orient":"bottom","tickCount":16,"tickSize":-4.5,"tickWidth":1.5,"labels":false,"title":null}},"x2":{"field":"x2"},"y":{"field":"ml","type":"quantitative","scale":{"domain":[0.31,2.5],"nice":false,"zero":false},"axis":{"orient":"left","tickCount":20,"tickSize":-4.5,"tickWidth":1.5,"labels":false,"title":null}},"y2":{"field":"mh"}}},
{"transform":[{"fold":["x","x2"],"as":["e","xe"]}],"mark":{"type":"line","strokeWidth":3.5,"clip":true},"encoding":{"x":{"field":"xe","type":"quantitative","scale":{"domain":[0,0.8],"nice":false,"zero":false},"axis":{"orient":"top","tickCount":5,"labels":false,"title":null}},"y":{"field":"N","type":"quantitative","scale":{"domain":[0.31,2.5],"nice":false,"zero":false},"axis":{"orient":"right","tickCount":4,"labels":false,"title":null}},"stroke":{"datum":"N","scale":{"domain":["D","N"],"range":["#000000","#1d6b3b"]},"legend":null},"order":[{"field":"x","type":"quantitative"},{"field":"e","type":"nominal"}]}},
{"transform":[{"fold":["B","A","J","Z","M"],"as":["s","v"]},{"fold":["x","x2"],"as":["e","xe"]}],"mark":{"type":"line","strokeWidth":3.5,"clip":true},"encoding":{"x":{"field":"xe","type":"quantitative","scale":{"domain":[0,0.8],"nice":false,"zero":false},"axis":{"orient":"top","tickCount":16,"tickSize":-4.5,"tickWidth":1.5,"labels":false,"title":null}},"y":{"field":"v","type":"quantitative","scale":{"domain":[0.31,2.5],"nice":false,"zero":false},"axis":{"orient":"right","tickCount":20,"tickSize":-4.5,"tickWidth":1.5,"labels":false,"title":null}},"color":{"field":"s","type":"nominal","scale":{"domain":["B","U","S","A","J","Z","M"],"range":["#2d2a7f","#a9a4df","#d3d0f2","#000000","#c54fb4","#e5322b","#ffcc00"]},"legend":null},"order":[{"field":"x","type":"quantitative"},{"field":"e","type":"nominal"}]}},
{"mark":{"type":"rule","strokeWidth":2,"color":"#000000","clip":true},"encoding":{"x":{"field":"xd","type":"quantitative","scale":{"domain":[0,0.8],"nice":false,"zero":false},"axis":{"orient":"bottom","ticks":false,"labels":false,"domain":false,"title":"obs","titleX":105,"titleY":37,"titleAngle":0,"titleAlign":"center","titleBaseline":"alphabetic","titleFontSize":11}},"y":{"field":"ol","type":"quantitative","scale":{"domain":[0.31,2.5],"nice":false,"zero":false},"axis":null},"y2":{"field":"oh"}}},
{"transform":[{"fold":["il","ih"],"as":["ck","cv"]}],"mark":{"type":"tick","orient":"horizontal","size":11,"thickness":2,"color":"#000000","clip":true},"encoding":{"x":{"field":"xd","type":"quantitative","scale":{"domain":[0,0.8],"nice":false,"zero":false},"axis":{"orient":"bottom","ticks":false,"labels":false,"domain":false,"title":"IP","titleX":101,"titleY":52,"titleAngle":0,"titleAlign":"center","titleBaseline":"alphabetic","titleFontSize":11}},"y":{"field":"cv","type":"quantitative","scale":{"domain":[0.31,2.5],"nice":false,"zero":false},"axis":null}}},
{"mark":{"type":"point","filled":true,"color":"#000000","size":115,"opacity":1,"clip":true},"encoding":{"x":{"field":"xd","type":"quantitative","scale":{"domain":[0,0.8],"nice":false,"zero":false},"axis":null},"y":{"field":"yd","type":"quantitative","scale":{"domain":[0.31,2.5],"nice":false,"zero":false},"axis":null}}}
]},
{"width":204.3,"height":243,"data":{"name":"v"},"transform":[{"filter":"datum.p==3&&datum.r=='b'"}],"resolve":{"axis":{"x":"independent","y":"independent"}},
"layer":[
{"mark":{"type":"rect","color":"#d3d0f2","clip":true},"encoding":{"x":{"field":"x","type":"quantitative","scale":{"domain":[0,1],"nice":false,"zero":false},"axis":{"orient":"bottom","values":[0.2,0.4,0.6,0.8],"format":"~g","title":"z","titleX":91,"titleY":47,"titleAngle":0,"titleAlign":"center","titleBaseline":"alphabetic","titleFontSize":20}},"x2":{"field":"x2"},"y":{"field":"ll","type":"quantitative","scale":{"domain":[0.31,2.5],"nice":false,"zero":false},"axis":{"orient":"left","tickCount":4,"labels":false,"title":null}},"y2":{"field":"lh"}}},
{"mark":{"type":"rect","color":"#a9a4df","clip":true},"encoding":{"x":{"field":"x","type":"quantitative","scale":{"domain":[0,1],"nice":false,"zero":false},"axis":{"orient":"bottom","tickCount":20,"tickSize":-4.5,"tickWidth":1.5,"labels":false,"title":null}},"x2":{"field":"x2"},"y":{"field":"ml","type":"quantitative","scale":{"domain":[0.31,2.5],"nice":false,"zero":false},"axis":{"orient":"left","tickCount":20,"tickSize":-4.5,"tickWidth":1.5,"labels":false,"title":null}},"y2":{"field":"mh"}}},
{"transform":[{"fold":["x","x2"],"as":["e","xe"]}],"mark":{"type":"line","strokeWidth":3.5,"clip":true},"encoding":{"x":{"field":"xe","type":"quantitative","scale":{"domain":[0,1],"nice":false,"zero":false},"axis":{"orient":"top","tickCount":5,"labels":false,"title":null}},"y":{"field":"N","type":"quantitative","scale":{"domain":[0.31,2.5],"nice":false,"zero":false},"axis":{"orient":"right","tickCount":4,"labels":false,"title":null}},"stroke":{"datum":"N","scale":{"domain":["D","N"],"range":["#000000","#1d6b3b"]},"legend":null},"order":[{"field":"x","type":"quantitative"},{"field":"e","type":"nominal"}]}},
{"transform":[{"fold":["B","A","J","Z","M"],"as":["s","v"]},{"fold":["x","x2"],"as":["e","xe"]}],"mark":{"type":"line","strokeWidth":3.5,"clip":true},"encoding":{"x":{"field":"xe","type":"quantitative","scale":{"domain":[0,1],"nice":false,"zero":false},"axis":{"orient":"top","tickCount":20,"tickSize":-4.5,"tickWidth":1.5,"labels":false,"title":null}},"y":{"field":"v","type":"quantitative","scale":{"domain":[0.31,2.5],"nice":false,"zero":false},"axis":{"orient":"right","tickCount":20,"tickSize":-4.5,"tickWidth":1.5,"labels":false,"title":null}},"color":{"field":"s","type":"nominal","scale":{"domain":["B","U","S","A","J","Z","M"],"range":["#2d2a7f","#a9a4df","#d3d0f2","#000000","#c54fb4","#e5322b","#ffcc00"]},"legend":null},"order":[{"field":"x","type":"quantitative"},{"field":"e","type":"nominal"}]}},
{"mark":{"type":"rule","strokeWidth":2,"color":"#000000","clip":true},"encoding":{"x":{"field":"xd","type":"quantitative","scale":{"domain":[0,1],"nice":false,"zero":false},"axis":{"orient":"bottom","ticks":false,"labels":false,"domain":false,"title":"obs","titleX":105,"titleY":37,"titleAngle":0,"titleAlign":"center","titleBaseline":"alphabetic","titleFontSize":11}},"y":{"field":"ol","type":"quantitative","scale":{"domain":[0.31,2.5],"nice":false,"zero":false},"axis":null},"y2":{"field":"oh"}}},
{"transform":[{"fold":["il","ih"],"as":["ck","cv"]}],"mark":{"type":"tick","orient":"horizontal","size":11,"thickness":2,"color":"#000000","clip":true},"encoding":{"x":{"field":"xd","type":"quantitative","scale":{"domain":[0,1],"nice":false,"zero":false},"axis":{"orient":"bottom","ticks":false,"labels":false,"domain":false,"title":"IP","titleX":101,"titleY":52,"titleAngle":0,"titleAlign":"center","titleBaseline":"alphabetic","titleFontSize":11}},"y":{"field":"cv","type":"quantitative","scale":{"domain":[0.31,2.5],"nice":false,"zero":false},"axis":null}}},
{"mark":{"type":"point","filled":true,"color":"#000000","size":115,"opacity":1,"clip":true},"encoding":{"x":{"field":"xd","type":"quantitative","scale":{"domain":[0,1],"nice":false,"zero":false},"axis":null},"y":{"field":"yd","type":"quantitative","scale":{"domain":[0.31,2.5],"nice":false,"zero":false},"axis":null}}}
]},
{"width":204.3,"height":243,"data":{"name":"v"},"transform":[{"filter":"datum.p==4&&datum.r=='b'"}],"resolve":{"axis":{"x":"independent","y":"independent"}},
"layer":[
{"mark":{"type":"rect","color":"#d3d0f2","clip":true},"encoding":{"x":{"field":"x","type":"quantitative","scale":{"domain":[0,1],"nice":false,"zero":false},"axis":{"orient":"bottom","values":[0.2,0.4,0.6,0.8],"format":"~g","title":"z","titleX":91,"titleY":47,"titleAngle":0,"titleAlign":"center","titleBaseline":"alphabetic","titleFontSize":20}},"x2":{"field":"x2"},"y":{"field":"ll","type":"quantitative","scale":{"domain":[0.31,2.5],"nice":false,"zero":false},"axis":{"orient":"left","tickCount":4,"labels":false,"title":null}},"y2":{"field":"lh"}}},
{"mark":{"type":"rect","color":"#a9a4df","clip":true},"encoding":{"x":{"field":"x","type":"quantitative","scale":{"domain":[0,1],"nice":false,"zero":false},"axis":{"orient":"bottom","tickCount":20,"tickSize":-4.5,"tickWidth":1.5,"labels":false,"title":null}},"x2":{"field":"x2"},"y":{"field":"ml","type":"quantitative","scale":{"domain":[0.31,2.5],"nice":false,"zero":false},"axis":{"orient":"left","tickCount":20,"tickSize":-4.5,"tickWidth":1.5,"labels":false,"title":null}},"y2":{"field":"mh"}}},
{"transform":[{"fold":["x","x2"],"as":["e","xe"]}],"mark":{"type":"line","strokeWidth":3.5,"clip":true},"encoding":{"x":{"field":"xe","type":"quantitative","scale":{"domain":[0,1],"nice":false,"zero":false},"axis":{"orient":"top","tickCount":5,"labels":false,"title":null}},"y":{"field":"N","type":"quantitative","scale":{"domain":[0.31,2.5],"nice":false,"zero":false},"axis":{"orient":"right","tickCount":4,"labels":false,"title":null}},"stroke":{"datum":"N","scale":{"domain":["D","N"],"range":["#000000","#1d6b3b"]},"legend":null},"order":[{"field":"x","type":"quantitative"},{"field":"e","type":"nominal"}]}},
{"transform":[{"fold":["B","A","J","Z","M"],"as":["s","v"]},{"fold":["x","x2"],"as":["e","xe"]}],"mark":{"type":"line","strokeWidth":3.5,"clip":true},"encoding":{"x":{"field":"xe","type":"quantitative","scale":{"domain":[0,1],"nice":false,"zero":false},"axis":{"orient":"top","tickCount":20,"tickSize":-4.5,"tickWidth":1.5,"labels":false,"title":null}},"y":{"field":"v","type":"quantitative","scale":{"domain":[0.31,2.5],"nice":false,"zero":false},"axis":{"orient":"right","tickCount":20,"tickSize":-4.5,"tickWidth":1.5,"labels":false,"title":null}},"color":{"field":"s","type":"nominal","scale":{"domain":["B","U","S","A","J","Z","M"],"range":["#2d2a7f","#a9a4df","#d3d0f2","#000000","#c54fb4","#e5322b","#ffcc00"]},"legend":null},"order":[{"field":"x","type":"quantitative"},{"field":"e","type":"nominal"}]}},
{"mark":{"type":"rule","strokeWidth":2,"color":"#000000","clip":true},"encoding":{"x":{"field":"xd","type":"quantitative","scale":{"domain":[0,1],"nice":false,"zero":false},"axis":{"orient":"bottom","ticks":false,"labels":false,"domain":false,"title":"obs","titleX":105,"titleY":37,"titleAngle":0,"titleAlign":"center","titleBaseline":"alphabetic","titleFontSize":11}},"y":{"field":"ol","type":"quantitative","scale":{"domain":[0.31,2.5],"nice":false,"zero":false},"axis":null},"y2":{"field":"oh"}}},
{"transform":[{"fold":["il","ih"],"as":["ck","cv"]}],"mark":{"type":"tick","orient":"horizontal","size":11,"thickness":2,"color":"#000000","clip":true},"encoding":{"x":{"field":"xd","type":"quantitative","scale":{"domain":[0,1],"nice":false,"zero":false},"axis":{"orient":"bottom","ticks":false,"labels":false,"domain":false,"title":"IP","titleX":101,"titleY":52,"titleAngle":0,"titleAlign":"center","titleBaseline":"alphabetic","titleFontSize":11}},"y":{"field":"cv","type":"quantitative","scale":{"domain":[0.31,2.5],"nice":false,"zero":false},"axis":null}}},
{"mark":{"type":"point","filled":true,"color":"#000000","size":115,"opacity":1,"clip":true},"encoding":{"x":{"field":"xd","type":"quantitative","scale":{"domain":[0,1],"nice":false,"zero":false},"axis":null},"y":{"field":"yd","type":"quantitative","scale":{"domain":[0.31,2.5],"nice":false,"zero":false},"axis":null}}}
]},
{"width":204.3,"height":243,"data":{"name":"v"},"transform":[{"filter":"datum.p==5&&datum.r=='b'"}],"resolve":{"axis":{"x":"independent","y":"independent"}},
"layer":[
{"mark":{"type":"rect","color":"#d3d0f2","clip":true},"encoding":{"x":{"field":"x","type":"quantitative","scale":{"domain":[0,1],"nice":false,"zero":false},"axis":{"orient":"bottom","ticks":false,"labels":false,"title":null}},"x2":{"field":"x2"},"y":{"field":"ll","type":"quantitative","scale":{"domain":[0.31,2.5],"nice":false,"zero":false},"axis":{"orient":"left","tickCount":4,"labels":false,"title":null}},"y2":{"field":"lh"}}},
{"mark":{"type":"rect","color":"#a9a4df","clip":true},"encoding":{"x":{"field":"x","type":"quantitative","scale":{"domain":[0,1],"nice":false,"zero":false},"axis":null},"x2":{"field":"x2"},"y":{"field":"ml","type":"quantitative","scale":{"domain":[0.31,2.5],"nice":false,"zero":false},"axis":{"orient":"left","tickCount":20,"tickSize":-4.5,"tickWidth":1.5,"labels":false,"title":null}},"y2":{"field":"mh"}}},
{"mark":{"type":"rule","strokeWidth":2,"color":"#000000","clip":true},"encoding":{"x":{"field":"xd","type":"quantitative","scale":{"domain":[0,1],"nice":false,"zero":false},"axis":{"orient":"top","ticks":false,"labels":false,"title":null,"domainWidth":1.5}},"y":{"field":"ol","type":"quantitative","scale":{"domain":[0.31,2.5],"nice":false,"zero":false},"axis":{"orient":"right","tickCount":4,"labels":false,"title":null}},"y2":{"field":"oh"}}},
{"mark":{"type":"point","filled":true,"color":"#000000","size":115,"opacity":1,"clip":true},"encoding":{"x":{"field":"xd","type":"quantitative","scale":{"domain":[0,1],"nice":false,"zero":false},"axis":null},"y":{"field":"yd","type":"quantitative","scale":{"domain":[0.31,2.5],"nice":false,"zero":false},"axis":{"orient":"right","tickCount":20,"tickSize":-4.5,"tickWidth":1.5,"labels":false,"title":null}}}}
]},
{"width":204.3,"height":243,"data":{"name":"v"},"transform":[{"filter":"datum.p==6&&datum.r=='b'"}],"resolve":{"axis":{"x":"independent","y":"independent"}},
"layer":[
{"mark":{"type":"rect","color":"#d3d0f2","clip":true},"encoding":{"x":{"field":"x","type":"quantitative","scale":{"domain":[0,1],"nice":false,"zero":false},"axis":{"orient":"bottom","values":[0.2,0.4,0.6,0.8,1],"format":"~g","title":"z","titleX":91,"titleY":47,"titleAngle":0,"titleAlign":"center","titleBaseline":"alphabetic","titleFontSize":20}},"x2":{"field":"x2"},"y":{"field":"ll","type":"quantitative","scale":{"domain":[0.31,2.5],"nice":false,"zero":false},"axis":{"orient":"left","tickCount":4,"labels":false,"title":null}},"y2":{"field":"lh"}}},
{"mark":{"type":"rect","color":"#a9a4df","clip":true},"encoding":{"x":{"field":"x","type":"quantitative","scale":{"domain":[0,1],"nice":false,"zero":false},"axis":{"orient":"bottom","tickCount":20,"tickSize":-4.5,"tickWidth":1.5,"labels":false,"title":null}},"x2":{"field":"x2"},"y":{"field":"ml","type":"quantitative","scale":{"domain":[0.31,2.5],"nice":false,"zero":false},"axis":{"orient":"left","tickCount":20,"tickSize":-4.5,"tickWidth":1.5,"labels":false,"title":null}},"y2":{"field":"mh"}}},
{"transform":[{"fold":["x","x2"],"as":["e","xe"]}],"mark":{"type":"line","strokeWidth":3.5,"clip":true},"encoding":{"x":{"field":"xe","type":"quantitative","scale":{"domain":[0,1],"nice":false,"zero":false},"axis":{"orient":"top","tickCount":5,"labels":false,"title":null}},"y":{"field":"N","type":"quantitative","scale":{"domain":[0.31,2.5],"nice":false,"zero":false},"axis":{"orient":"right","tickCount":4,"labels":false,"title":null}},"stroke":{"datum":"N","scale":{"domain":["D","N"],"range":["#000000","#1d6b3b"]},"legend":null},"order":[{"field":"x","type":"quantitative"},{"field":"e","type":"nominal"}]}},
{"transform":[{"fold":["B","A","J","Z","M"],"as":["s","v"]},{"fold":["x","x2"],"as":["e","xe"]}],"mark":{"type":"line","strokeWidth":3.5,"clip":true},"encoding":{"x":{"field":"xe","type":"quantitative","scale":{"domain":[0,1],"nice":false,"zero":false},"axis":{"orient":"top","tickCount":20,"tickSize":-4.5,"tickWidth":1.5,"labels":false,"title":null}},"y":{"field":"v","type":"quantitative","scale":{"domain":[0.31,2.5],"nice":false,"zero":false},"axis":{"orient":"right","tickCount":20,"tickSize":-4.5,"tickWidth":1.5,"labels":false,"title":null}},"color":{"field":"s","type":"nominal","scale":{"domain":["B","U","S","A","J","Z","M"],"range":["#2d2a7f","#a9a4df","#d3d0f2","#000000","#c54fb4","#e5322b","#ffcc00"]},"legend":null},"order":[{"field":"x","type":"quantitative"},{"field":"e","type":"nominal"}]}},
{"mark":{"type":"rule","strokeWidth":2,"color":"#000000","clip":true},"encoding":{"x":{"field":"xd","type":"quantitative","scale":{"domain":[0,1],"nice":false,"zero":false},"axis":{"orient":"bottom","ticks":false,"labels":false,"domain":false,"title":"obs","titleX":105,"titleY":37,"titleAngle":0,"titleAlign":"center","titleBaseline":"alphabetic","titleFontSize":11}},"y":{"field":"ol","type":"quantitative","scale":{"domain":[0.31,2.5],"nice":false,"zero":false},"axis":null},"y2":{"field":"oh"}}},
{"transform":[{"fold":["il","ih"],"as":["ck","cv"]}],"mark":{"type":"tick","orient":"horizontal","size":11,"thickness":2,"color":"#000000","clip":true},"encoding":{"x":{"field":"xd","type":"quantitative","scale":{"domain":[0,1],"nice":false,"zero":false},"axis":{"orient":"bottom","ticks":false,"labels":false,"domain":false,"title":"IP","titleX":101,"titleY":52,"titleAngle":0,"titleAlign":"center","titleBaseline":"alphabetic","titleFontSize":11}},"y":{"field":"cv","type":"quantitative","scale":{"domain":[0.31,2.5],"nice":false,"zero":false},"axis":null}}},
{"mark":{"type":"point","filled":true,"color":"#000000","size":115,"opacity":1,"clip":true},"encoding":{"x":{"field":"xd","type":"quantitative","scale":{"domain":[0,1],"nice":false,"zero":false},"axis":null},"y":{"field":"yd","type":"quantitative","scale":{"domain":[0.31,2.5],"nice":false,"zero":false},"axis":null}}}
]}
],
"config": {
"font": "Liberation Sans",
"view": {"stroke": null},
"axis": {"domain": true, "domainColor": "#000000", "domainWidth": 2.5, "domainCap": "square", "grid": false, "tickColor": "#000000", "tickWidth": 2, "tickSize": -8, "labelFont": "Liberation Sans", "labelFontSize": 17, "labelColor": "#000000", "labelPadding": 14, "labelFlush": false, "labelOverlap": false, "labelBound": false, "titleFont": "Liberation Sans", "titleFontWeight": "normal", "titleColor": "#000000", "zindex": 1},
"axisX": {"labelPadding": 15},
"title": {"font": "Liberation Sans", "fontSize": 18, "fontWeight": "normal", "color": "#000000", "anchor": "middle", "frame": "group", "offset": -45, "baseline": "top", "lineHeight": 18},
"legend": {"orient": "none", "labelFont": "Liberation Sans", "labelFontSize": 18, "labelColor": "#000000", "labelLimit": 300, "symbolSize": 324, "symbolStrokeWidth": 0, "rowPadding": 0, "labelOffset": 3, "padding": 0}
}
}
